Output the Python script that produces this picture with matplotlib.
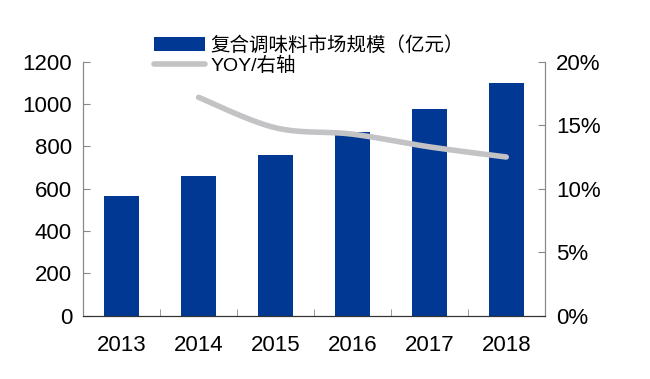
import matplotlib
matplotlib.use("Agg")
import matplotlib.pyplot as plt
import numpy as np

plt.rcParams['font.family'] = ['Liberation Sans', 'Noto Sans CJK SC', 'DejaVu Sans']

years = ['2013', '2014', '2015', '2016', '2017', '2018']
market_size = [566, 661, 760, 866, 978, 1100]
yoy_years = [1, 2, 3, 4, 5]
yoy = [17.2, 14.8, 14.3, 13.3, 12.5]

bar_color = '#003893'
line_color = '#c3c3c6'


def smooth(px, py, n=40):
    # Catmull-Rom spline, like the smoothed line of a spreadsheet chart
    px = np.asarray(px, float)
    py = np.asarray(py, float)
    P = np.column_stack([px, py])
    P = np.vstack([P[0], P, P[-1]])
    out = []
    t = np.linspace(0, 1, n)[:, None]
    for i in range(1, len(P) - 2):
        p0, p1, p2, p3 = P[i - 1], P[i], P[i + 1], P[i + 2]
        seg = 0.5 * ((2 * p1) + (-p0 + p2) * t + (2 * p0 - 5 * p1 + 4 * p2 - p3) * t ** 2
                     + (-p0 + 3 * p1 - 3 * p2 + p3) * t ** 3)
        out.append(seg)
    out = np.vstack(out)
    return out[:, 0], out[:, 1]


fig = plt.figure(figsize=(6.5, 3.79), dpi=100)
ax = fig.add_axes([0.128, 0.167, 0.71, 0.67])
ax2 = ax.twinx()

x = np.arange(len(years))
bars = ax.bar(x, market_size, width=0.46, color=bar_color, zorder=2)

sx, sy = smooth(yoy_years, yoy)
ln, = ax2.plot(sx, sy, color=line_color, lw=4, solid_capstyle='round')

ax.set_xlim(-0.5, 5.5)
ax.set_ylim(0, 1200)
ax.set_yticks(range(0, 1201, 200))
ax2.set_ylim(0, 20)
ax2.set_yticks([0, 5, 10, 15, 20])
ax2.set_yticklabels(['0%', '5%', '10%', '15%', '20%'])

ax.set_xticks(x)
ax.set_xticklabels(years)
ax.set_xticks(np.arange(-0.5, 6, 1), minor=True)
ax.tick_params(axis='x', which='major', length=0, pad=14, labelsize=16)
ax.tick_params(axis='x', which='minor', length=5, direction='in', color='#888888')
ax.tick_params(axis='y', length=5, direction='in', color='#888888', labelsize=16, pad=8)
ax2.tick_params(axis='y', length=5, direction='in', color='#888888', labelsize=16, pad=8)

for a in (ax, ax2):
    a.spines['top'].set_visible(False)
    a.spines['left'].set_color('#888888')
    a.spines['right'].set_color('#888888')
    a.spines['bottom'].set_color('#333333')

ax.set_zorder(ax2.get_zorder() - 1)
ax.patch.set_visible(False)

fig.legend([bars, ln], ['复合调味料市场规模（亿元）', 'YOY/右轴'],
           loc='upper left', bbox_to_anchor=(0.225, 0.925), frameon=False,
           fontsize=14, handlelength=2.6, handletextpad=0.3, labelspacing=0.1,
           borderaxespad=0)

fig.savefig('out.png', dpi=100)
